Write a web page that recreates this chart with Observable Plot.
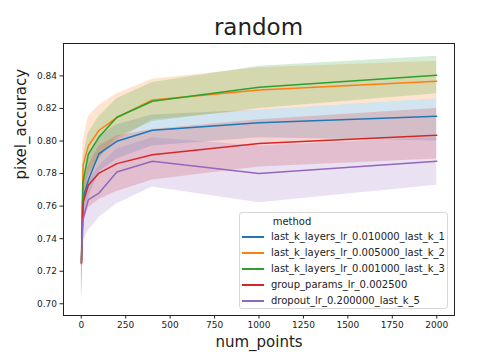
<!DOCTYPE html>
<html>
<head>
<meta charset="utf-8">
<script src="https://cdn.jsdelivr.net/npm/d3@7"></script>
<script src="https://cdn.jsdelivr.net/npm/@observablehq/plot@0.6"></script>
<style>
  html, body { margin: 0; padding: 0; background: #fff; }
  #wrap { position: relative; width: 504px; height: 360px; font-family: "DejaVu Sans", sans-serif; color: #222; }
  #title { position: absolute; left: 63px; width: 391px; top: 16px; text-align: center; font-size: 23px; line-height: 23px; }
  #legend { position: absolute; left: 239px; top: 212px; width: 209px; height: 97px; border: 1px solid #d8d8d8; border-radius: 3px; background: rgba(255,255,255,0.8); font-size: 10px; box-sizing: border-box; }
  #legend .head { position: absolute; left: 0; width: 104px; top: 3px; text-align: center; }
  #legend .row { position: absolute; left: 0; height: 12px; line-height: 12px; }
  #legend .sw { position: absolute; left: 2px; top: 5px; width: 22px; height: 0; border-top: 2px solid; }
  #legend .lab { position: absolute; left: 31px; top: 0; white-space: nowrap; }
</style>
</head>
<body>
<div id="wrap">
  <div id="title">random</div>
  <div id="legend"></div>
</div>
<script>
const methods = [
  "last_k_layers_lr_0.010000_last_k_1",
  "last_k_layers_lr_0.005000_last_k_2",
  "last_k_layers_lr_0.001000_last_k_3",
  "group_params_lr_0.002500",
  "dropout_lr_0.200000_last_k_5"
];
const colors = ["#1f77b4", "#ff7f0e", "#2ca02c", "#d62728", "#9467bd"];
const numPoints = [1, 10, 40, 100, 200, 400, 1000, 2000];

const meanK1 = [0.725, 0.765, 0.776, 0.7923, 0.7998, 0.8066, 0.8112, 0.8152];
const lowK1  = [0.702, 0.750, 0.765, 0.781, 0.789, 0.797, 0.802, 0.800];
const highK1 = [0.745, 0.775, 0.790, 0.803, 0.810, 0.816, 0.819, 0.826];

const meanK2 = [0.725, 0.785, 0.797, 0.8066, 0.8144, 0.8252, 0.8314, 0.8367];
const lowK2  = [0.702, 0.765, 0.780, 0.790, 0.800, 0.813, 0.819, 0.826];
const highK2 = [0.748, 0.800, 0.815, 0.822, 0.829, 0.838, 0.845, 0.849];

const meanK3 = [0.727, 0.775, 0.792, 0.8025, 0.8146, 0.8244, 0.8330, 0.8404];
const lowK3  = [0.703, 0.755, 0.778, 0.789, 0.802, 0.812, 0.820, 0.829];
const highK3 = [0.752, 0.790, 0.805, 0.815, 0.826, 0.836, 0.846, 0.852];

const meanGP = [0.725, 0.762, 0.773, 0.7803, 0.7861, 0.7915, 0.7984, 0.8035];
const lowGP  = [0.701, 0.748, 0.759, 0.764, 0.769, 0.776, 0.784, 0.789];
const highGP = [0.745, 0.772, 0.785, 0.797, 0.803, 0.807, 0.813, 0.820];

const meanDO = [0.7246, 0.752, 0.764, 0.768, 0.781, 0.7876, 0.7800, 0.7876];
const lowDO  = [0.703, 0.738, 0.745, 0.753, 0.7615, 0.7717, 0.7621, 0.7728];
const highDO = [0.745, 0.765, 0.775, 0.785, 0.795, 0.802, 0.797, 0.802];

const xTicks = [0, 250, 500, 750, 1000, 1250, 1500, 1750, 2000];
const yTicks = [0.70, 0.72, 0.74, 0.76, 0.78, 0.80, 0.82, 0.84];

const series = [
  [meanK1, lowK1, highK1],
  [meanK2, lowK2, highK2],
  [meanK3, lowK3, highK3],
  [meanGP, lowGP, highGP],
  [meanDO, lowDO, highDO]
];
const rows = [];
series.forEach(([m, lo, hi], i) => {
  numPoints.forEach((x, j) => rows.push({method: methods[i], x, y: m[j], lo: lo[j], hi: hi[j]}));
});

const chart = Plot.plot({
  width: 504,
  height: 360,
  marginLeft: 63,
  marginRight: 50,
  marginTop: 43,
  marginBottom: 45,
  style: {background: "transparent", fontFamily: "DejaVu Sans, sans-serif", fontSize: "9px", color: "#222"},
  x: {domain: [-100, 2100], ticks: xTicks},
  y: {domain: [0.6928, 0.8599], ticks: yTicks},
  color: {domain: methods, range: colors},
  marks: [
    Plot.areaY(rows, {x: "x", y1: "lo", y2: "hi", z: "method", fill: "method", fillOpacity: 0.2}),
    Plot.line(rows, {x: "x", y: "y", z: "method", stroke: "method", strokeWidth: 1.5}),
    Plot.axisX({ticks: xTicks, tickSize: 3.5, tickPadding: 3, fontSize: 9, label: null, tickFormat: d3.format("d")}),
    Plot.axisY({ticks: yTicks, tickSize: 3.5, tickPadding: 3, fontSize: 9, label: null, tickFormat: d3.format(".2f")}),
    Plot.frame({stroke: "#222", strokeWidth: 1}),
    Plot.text(["num_points"], {frameAnchor: "bottom", dy: 31, fontSize: 15, fill: "#222"}),
    Plot.text(["pixel_accuracy"], {frameAnchor: "left", dx: -42, rotate: -90, fontSize: 15, fill: "#222"})
  ]
});
chart.style.position = "absolute";
chart.style.left = "0";
chart.style.top = "0";
const wrap = document.getElementById("wrap");
wrap.insertBefore(chart, wrap.firstChild);

const leg = document.getElementById("legend");
const head = document.createElement("div");
head.className = "head";
head.textContent = "method";
leg.appendChild(head);
methods.forEach((m, i) => {
  const r = document.createElement("div");
  r.className = "row";
  r.style.top = (18 + i * 16) + "px";
  const sw = document.createElement("div");
  sw.className = "sw";
  sw.style.borderColor = colors[i];
  const lab = document.createElement("div");
  lab.className = "lab";
  lab.textContent = m;
  r.appendChild(sw);
  r.appendChild(lab);
  leg.appendChild(r);
});
</script>
</body>
</html>
